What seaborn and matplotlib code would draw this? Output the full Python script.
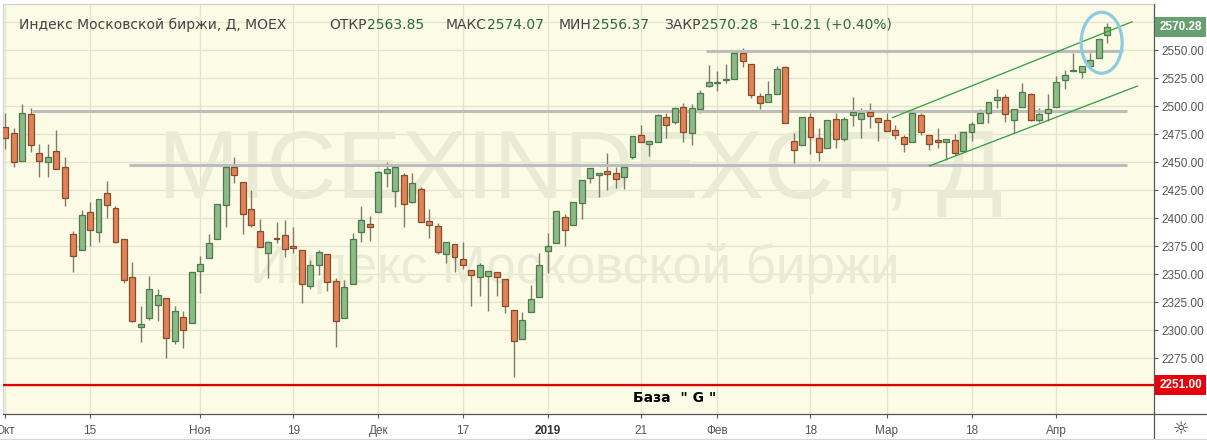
import numpy as np
import pandas as pd
import matplotlib
matplotlib.use("Agg")
import matplotlib.pyplot as plt
import matplotlib.transforms as mtransforms
from matplotlib.patches import Ellipse
from matplotlib.lines import Line2D
import seaborn as sns

# daily candles, MICEXINDEXCF
opens = [2481.0, 2475.6, 2451.2, 2492.6, 2457.7, 2449.7, 2459.5, 2445.2, 2385.4, 2371.1,
         2405.1, 2387.2, 2422.0, 2408.6, 2381.0, 2347.0, 2302.4, 2310.4, 2322.0, 2328.3,
         2289.9, 2311.3, 2306.0, 2352.4, 2364.0, 2381.0, 2411.3, 2445.2, 2431.8, 2407.7,
         2388.1, 2368.5, 2381.8, 2384.5, 2374.7, 2371.1, 2339.0, 2357.7, 2367.6, 2343.5,
         2310.4, 2340.8, 2387.2, 2394.3, 2405.1, 2439.9, 2424.4, 2438.4, 2414.6, 2425.6,
         2397.3, 2392.6, 2367.6, 2376.5, 2363.1, 2353.3, 2347.0, 2347.9, 2351.5, 2345.2,
         2317.6, 2291.7, 2315.8, 2329.2, 2370.2, 2377.4, 2400.6, 2393.5, 2413.1, 2435.4,
         2438.1, 2441.7, 2439.9, 2436.3, 2454.2, 2473.8, 2465.8, 2467.6, 2489.9, 2485.4,
         2498.8, 2475.6, 2497.0, 2517.6, 2520.2, 2522.9, 2523.8, 2547.0, 2537.2, 2508.6,
         2503.3, 2510.4, 2534.5, 2468.5, 2464.9, 2489.9, 2471.1, 2462.2, 2488.1, 2470.2,
         2491.7, 2488.1, 2494.3, 2489.0, 2487.2, 2478.3, 2472.0, 2467.6, 2491.7, 2473.8,
         2469.3, 2467.6, 2469.3, 2459.5, 2476.5, 2484.5, 2493.5, 2505.1, 2507.7, 2487.2,
         2498.8, 2510.4, 2487.2, 2494.0, 2498.8, 2522.9, 2531.0, 2530.1, 2535.4, 2542.6,
         2563.85]
highs = [2493.5, 2480.0, 2501.8, 2497.9, 2466.1, 2466.1, 2478.6, 2454.2, 2388.7, 2407.1,
         2414.0, 2416.7, 2433.3, 2410.4, 2381.0, 2360.4, 2321.4, 2348.5, 2336.3, 2328.3,
         2321.4, 2316.7, 2352.1, 2366.1, 2385.4, 2412.2, 2445.2, 2454.2, 2431.8, 2424.7,
         2398.8, 2379.2, 2396.1, 2397.9, 2391.7, 2371.1, 2362.2, 2371.1, 2367.6, 2346.1,
         2344.3, 2386.3, 2410.4, 2401.5, 2442.0, 2449.7, 2447.0, 2440.0, 2440.5, 2428.0,
         2407.7, 2395.2, 2378.3, 2376.5, 2378.3, 2353.3, 2359.5, 2352.4, 2351.5, 2345.2,
         2317.6, 2315.8, 2340.2, 2368.5, 2386.3, 2406.0, 2403.3, 2414.0, 2433.6, 2444.3,
         2440.0, 2457.7, 2445.2, 2445.2, 2473.0, 2482.7, 2468.8, 2492.6, 2493.5, 2498.8,
         2502.4, 2501.5, 2514.3, 2536.6, 2531.0, 2537.2, 2547.0, 2551.5, 2537.2, 2511.6,
         2522.0, 2535.4, 2535.4, 2475.6, 2490.0, 2493.5, 2480.1, 2487.2, 2493.5, 2490.5,
         2507.7, 2497.9, 2502.4, 2489.0, 2493.5, 2482.7, 2473.8, 2493.5, 2493.5, 2473.8,
         2480.1, 2470.2, 2474.7, 2476.5, 2485.4, 2497.0, 2503.9, 2514.9, 2510.4, 2497.0,
         2520.2, 2512.0, 2497.9, 2510.4, 2526.5, 2531.8, 2547.0, 2535.4, 2547.0, 2559.5,
         2574.07]
lows = [2461.3, 2445.8, 2451.2, 2459.2, 2436.9, 2436.9, 2443.5, 2411.0, 2352.1, 2371.1,
        2375.3, 2378.3, 2400.3, 2377.4, 2342.3, 2306.8, 2289.6, 2308.6, 2307.7, 2275.3,
        2287.2, 2283.6, 2306.0, 2333.3, 2364.0, 2381.0, 2392.3, 2431.0, 2385.4, 2391.7,
        2374.0, 2346.7, 2378.0, 2365.5, 2368.5, 2324.4, 2336.3, 2348.8, 2334.5, 2284.5,
        2310.4, 2340.8, 2378.3, 2379.2, 2405.1, 2427.4, 2409.5, 2391.7, 2413.1, 2396.1,
        2382.4, 2367.6, 2360.1, 2352.1, 2354.8, 2321.7, 2330.7, 2317.3, 2330.7, 2315.5,
        2258.3, 2291.7, 2315.8, 2329.2, 2350.6, 2377.4, 2375.3, 2393.5, 2398.8, 2431.0,
        2419.0, 2424.7, 2426.5, 2425.6, 2452.4, 2467.6, 2455.1, 2467.6, 2471.1, 2483.6,
        2468.2, 2464.9, 2493.5, 2516.7, 2513.1, 2520.2, 2523.8, 2534.5, 2506.8, 2497.0,
        2503.3, 2510.4, 2484.5, 2448.8, 2464.9, 2456.8, 2450.6, 2462.2, 2462.2, 2468.5,
        2481.8, 2471.1, 2480.1, 2468.5, 2477.4, 2470.2, 2458.6, 2467.6, 2473.8, 2460.4,
        2462.2, 2451.5, 2456.3, 2459.5, 2468.5, 2484.5, 2484.5, 2497.9, 2486.0, 2475.6,
        2498.8, 2487.0, 2485.4, 2486.3, 2498.8, 2514.9, 2531.0, 2524.7, 2533.6, 2542.6,
        2556.37]
closes = [2471.7, 2449.7, 2493.5, 2464.9, 2450.6, 2454.2, 2443.5, 2417.6, 2365.8, 2402.4,
          2389.0, 2416.7, 2411.3, 2378.3, 2344.3, 2307.7, 2305.1, 2336.3, 2331.0, 2292.6,
          2316.7, 2299.7, 2352.1, 2358.6, 2377.4, 2412.2, 2445.2, 2438.1, 2403.3, 2393.5,
          2374.4, 2378.3, 2381.0, 2372.0, 2372.9, 2340.8, 2357.7, 2369.3, 2342.6, 2307.7,
          2338.1, 2381.0, 2397.9, 2391.7, 2440.8, 2443.5, 2445.8, 2412.2, 2431.3, 2396.1,
          2393.5, 2369.9, 2378.3, 2364.9, 2358.3, 2349.4, 2357.7, 2352.4, 2347.0, 2321.7,
          2289.9, 2308.6, 2327.4, 2357.7, 2374.7, 2406.0, 2389.0, 2414.0, 2433.6, 2444.3,
          2439.9, 2439.0, 2434.5, 2445.2, 2472.9, 2467.6, 2468.8, 2491.7, 2482.7, 2497.9,
          2476.5, 2497.9, 2511.3, 2521.1, 2521.1, 2523.8, 2547.0, 2539.9, 2509.5, 2502.4,
          2510.4, 2532.7, 2485.1, 2460.4, 2489.9, 2472.0, 2458.6, 2487.2, 2470.2, 2488.1,
          2494.3, 2493.5, 2490.8, 2485.4, 2477.4, 2473.8, 2465.8, 2493.5, 2476.5, 2465.8,
          2467.6, 2470.2, 2457.7, 2476.5, 2483.6, 2493.5, 2503.9, 2507.7, 2492.6, 2497.0,
          2512.2, 2487.2, 2492.6, 2497.0, 2521.1, 2527.4, 2531.8, 2535.4, 2540.8, 2559.5,
          2570.28]

tick_pos = [0, 10, 23, 34, 44, 54, 64, 75, 84, 95, 104, 114, 124]
tick_labels = ["Окт", "15", "Ноя", "19", "Дек", "17", "2019", "21", "Фев", "18", "Мар", "18", "Апр"]
price_ticks = [2275, 2300, 2325, 2350, 2375, 2400, 2425, 2450, 2475, 2500, 2525, 2550]

# drawn levels (grey), channel (green), base line (red)
level_start = [3.1, 14.6, 82.7]
level_end = [132.4, 132.3, 131.9]
level_price = [2495.3, 2447.0, 2549.1]
chan_x = [[104.65, 132.96], [109.0, 133.6]]
chan_y = [[2489.6, 2575.3], [2446.4, 2517.9]]
base_price = 2251.0

header_parts = [("Индекс Московской биржи, Д, MOEX", ""), ("ОТКР", "2563.85"), ("МАКС", "2574.07"),
                ("МИН", "2556.37"), ("ЗАКР", "2570.28"), ("", "+10.21 (+0.40%)")]
header_x = [19, 329, 446, 559, 664, 770]

df = pd.DataFrame({"i": np.arange(len(opens)), "open": opens, "high": highs,
                   "low": lows, "close": closes})
df["up"] = df["close"] >= df["open"]

bg = "#fcfce6"
sns.set_theme(style="white", rc={"axes.facecolor": bg, "figure.facecolor": "white"})
plt.rcParams["font.family"] = ["DejaVu Sans"]

W, H = 1207, 440
fig = plt.figure(figsize=(W / 100, H / 100), dpi=100)
ax = fig.add_axes([3 / W, 26 / H, 1150.5 / W, 410 / H])
ax.set_facecolor(bg)

# watermark
wm = "#e9ebd3"
ax.text(67.9, 2417.9, "MICEXINDEXCF, Д", ha="center", va="baseline", fontsize=70,
        family="Liberation Sans", color=wm, zorder=0.5)
ax.text(67.2, 2342.0, "Индекс Московской биржи", ha="center", va="baseline", fontsize=38,
        family="Liberation Sans", color=wm, zorder=0.5)

# grid
grid_c = "#e3e4cd"
for p in [2250] + price_ticks + [2575]:
    ax.axhline(p, color=grid_c, lw=0.9, zorder=0.4)
for t in tick_pos:
    ax.axvline(t, color=grid_c, lw=0.9, zorder=0.4)

# candles
ax.vlines(df["i"], df["low"], df["high"], color="#7b7b68", lw=1, zorder=2)
body = (df["close"] - df["open"]).abs().clip(lower=0.9)
bottom = df[["open", "close"]].min(axis=1)
fills = np.where(df["up"], "#8dba87", "#de8458")
edges = np.where(df["up"], "#4d7a4d", "#8a4a2c")
ax.bar(df["i"], body, bottom=bottom, width=0.7, color=fills, edgecolor=edges,
       linewidth=0.9, zorder=3)

# levels
for s, e, p in zip(level_start, level_end, level_price):
    ax.plot([s, e], [p, p], color="#bdbdbd", lw=2.2, zorder=2.5, solid_capstyle="butt")
for xs, ys in zip(chan_x, chan_y):
    ax.plot(xs, ys, color="#2f9c3f", lw=0.9, zorder=4)
ax.axhline(base_price, color="#e00000", lw=1.6, zorder=4)
ax.text(79.0, 2239.5, 'База  " G "', ha="center", va="center", fontsize=10,
        fontweight="bold", color="black", zorder=5)

ax.add_patch(Ellipse((129.35, 2556.5), width=4.84, height=54.5, fill=False,
                     ec="#8ccbe0", lw=2.3, zorder=5))

ax.set_xlim(-0.27, 135.47)
ax.set_ylim(2225.0, 2591.1)

# axes styling
ax.yaxis.tick_right()
ax.set_yticks(price_ticks, [f"{p:.2f}" for p in price_ticks])
ax.set_xticks(tick_pos, tick_labels)
ax.tick_params(axis="y", length=3, pad=3, width=0.8, colors="#555555", labelsize=8.5,
               labelfontfamily="Liberation Sans", direction="out", right=True, left=False)
ax.tick_params(axis="x", length=3, pad=5, width=0.8, colors="#555555", labelsize=8.5,
               labelfontfamily="Liberation Sans", direction="out", bottom=True)
ax.get_xticklabels()[6].set_fontweight("bold")
ax.get_xticklabels()[6].set_color("#333333")
ax.grid(False)
for side in ["left", "top"]:
    ax.spines[side].set_color("#cfcfcf")
    ax.spines[side].set_linewidth(0.8)
for side in ["right", "bottom"]:
    ax.spines[side].set_color("#555555")
    ax.spines[side].set_linewidth(0.9)
fig.add_artist(Line2D([1153.5 / W] * 2, [0, 26 / H], color="#555555", lw=0.9))
fig.add_artist(Line2D([1153.5 / W, 1], [26 / H] * 2, color="#555555", lw=0.9))
fig.add_artist(Line2D([0, 1], [1.5 / H] * 2, color="#d5d5d5", lw=0.8))

# price boxes on the right axis
ytr = mtransforms.offset_copy(ax.get_yaxis_transform(), fig=fig, x=6, y=0, units="dots")
ax.text(1.0, closes[-1], f"{closes[-1]:.2f}", transform=ytr, ha="left", va="center",
        color="white", fontweight="bold", fontsize=8.5, family="Liberation Sans",
        bbox=dict(boxstyle="square,pad=0.35", fc="#67a06f", ec="none"), clip_on=False)
ax.text(1.0, base_price, f"{base_price:.2f}", transform=ytr, ha="left", va="center",
        color="white", fontweight="bold", fontsize=8.5, family="Liberation Sans",
        bbox=dict(boxstyle="square,pad=0.35", fc="#e6000b", ec="none"), clip_on=False)

fig.text(1181 / W, 1 - 429 / H, "☼", ha="center", va="center", fontsize=13, color="#333333")

# header line
renderer = fig.canvas.get_renderer()
hy = 1 - 25 / H
for (lab, val), px in zip(header_parts, header_x):
    x = px / W
    if lab:
        t = fig.text(x, hy, lab, ha="left", va="center", fontsize=10, color="#444444")
        bb = t.get_window_extent(renderer)
        x = bb.x1 / W
    if val:
        fig.text(x, hy, val, ha="left", va="center", fontsize=10, color="#2b6b35")

fig.savefig("out.png", dpi=100)
